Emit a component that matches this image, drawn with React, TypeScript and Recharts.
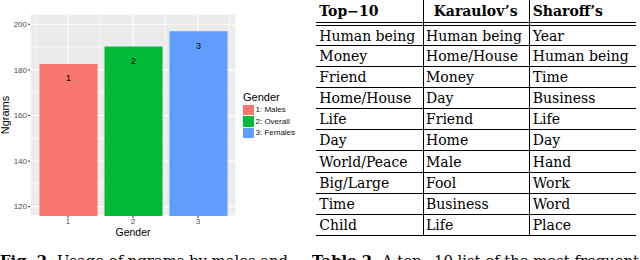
import { BarChart, Bar, Cell, XAxis, YAxis, CartesianGrid, LabelList, Legend } from "recharts";

const genders = [1, 2, 3];
const genderNames = ["1: Males", "2: Overall", "3: Females"];
const ngrams = [182.6, 190.2, 196.9];
const fills = ["#F8766D", "#00BA38", "#619CFF"];
const yTicks = [120, 140, 160, 180, 200];
const yMinorTicks = [130, 150, 170, 190];
const xMinorTicks = [0.5, 1.5, 2.5, 3.5];

const tableHeader = ["Top\u221210", "Karaulov\u2019s", "Sharoff\u2019s"];
const topWords = ["Human being", "Money", "Friend", "Home/House", "Life", "Day", "World/Peace", "Big/Large", "Time", "Child"];
const karaulovWords = ["Human being", "Home/House", "Money", "Day", "Friend", "Home", "Male", "Fool", "Business", "Life"];
const sharoffWords = ["Year", "Human being", "Time", "Business", "Life", "Day", "Hand", "Work", "Word", "Place"];

const data = genders.map((g, i) => ({ gender: g, name: genderNames[i], ngrams: ngrams[i] }));

const sans = "'Liberation Sans', Arial, sans-serif";
const serif = "'DejaVu Serif', serif";

const GenderLegend = () => (
  <div style={{ fontFamily: sans, color: "#000" }}>
    <div style={{ fontSize: 11, lineHeight: "13px" }}>Gender</div>
    {genderNames.map((name, i) => (
      <div key={name} style={{ display: "flex", alignItems: "center", height: 11.5 }}>
        <span style={{ display: "inline-block", width: 10.5, height: 10.5, background: fills[i], marginRight: 2 }} />
        <span style={{ fontSize: 8, color: "#111" }}>{name}</span>
      </div>
    ))}
  </div>
);

const colStyle = [
  { width: 106.7, pad: 3.3, headPad: 3.3 },
  { width: 106.3, pad: 2.3, headPad: 10 },
  { width: 107, pad: 2.7, headPad: 2.7 },
];

function WordTable() {
  const columns = [topWords, karaulovWords, sharoffWords];
  const cell = (text: string, i: number, bold: boolean) => (
    <div
      key={i}
      style={{
        width: colStyle[i].width,
        boxSizing: "border-box",
        paddingLeft: bold ? colStyle[i].headPad : colStyle[i].pad,
        borderLeft: i > 0 ? "1px solid #000" : "none",
        whiteSpace: "nowrap",
        fontWeight: bold ? "bold" : "normal",
        display: "flex",
        alignItems: "center",
      }}
    >
      {text}
    </div>
  );
  return (
    <div style={{ position: "absolute", left: 316, top: 0, width: 320, fontFamily: serif, fontSize: 14, color: "#000" }}>
      <div style={{ display: "flex", height: 22, borderBottom: "1px solid #000" }}>
        {tableHeader.map((h, i) => cell(h, i, true))}
      </div>
      <div style={{ display: "flex", height: 2 }}>
        {tableHeader.map((_, i) => (
          <div key={i} style={{ width: colStyle[i].width, boxSizing: "border-box", borderLeft: i > 0 ? "1px solid #000" : "none" }} />
        ))}
      </div>
      {topWords.map((_, r) => (
        <div
          key={r}
          style={{
            display: "flex",
            height: r === 0 ? 20 : r === topWords.length - 1 ? 22.5 : 21.1,
            boxSizing: "border-box",
            borderTop: "1px solid #000",
            borderBottom: r === topWords.length - 1 ? "1.4px solid #000" : "none",
          }}
        >
          {columns.map((col, i) => cell(col[r], i, false))}
        </div>
      ))}
    </div>
  );
}

export default function App() {
  return (
    <div style={{ position: "absolute", left: 0, top: 0, width: 640, height: 260, background: "#fff", overflow: "hidden" }}>
      <BarChart width={310} height={240} data={data} margin={{ top: 14, right: 74, bottom: 0, left: 0 }}>
        <CartesianGrid xAxisId="num" yAxisId="minor" fill="#EBEBEB" stroke="#fff" strokeWidth={0.6} />
        <CartesianGrid stroke="#fff" strokeWidth={1.1} />
        <XAxis
          dataKey="gender"
          padding={{ left: 5.5, right: 5.5 }}
          tick={{ fontSize: 8, fill: "#4D4D4D", fontFamily: sans }}
          tickSize={2}
          tickMargin={0}
          tickLine={{ stroke: "#333" }}
          axisLine={false}
          height={24}
          label={{ value: "Gender", position: "center", dy: 4.5, fontSize: 10.5, fill: "#000", fontFamily: sans }}
        />
        <XAxis xAxisId="num" dataKey="gender" type="number" domain={[0.405, 3.595]} allowDataOverflow ticks={xMinorTicks} hide />
        <YAxis
          domain={[115.9, 204.5]}
          allowDataOverflow
          ticks={yTicks}
          width={30}
          tick={{ fontSize: 8, fill: "#4D4D4D", fontFamily: sans }}
          tickSize={2}
          tickMargin={1}
          tickLine={{ stroke: "#333" }}
          axisLine={false}
          label={{ value: "Ngrams", angle: -90, position: "center", dx: -9.5, fontSize: 11, fill: "#000", fontFamily: sans }}
        />
        <YAxis yAxisId="minor" domain={[115.9, 204.5]} allowDataOverflow ticks={yMinorTicks} hide />
        <Legend layout="horizontal" verticalAlign="middle" align="center" content={GenderLegend} wrapperStyle={{ left: 243, top: 91, width: 70 }} />
        <Bar dataKey="ngrams" barSize={58} isAnimationActive={false}>
          {data.map((d, i) => (
            <Cell key={d.name} fill={fills[i]} />
          ))}
          <LabelList dataKey="gender" position="insideTop" offset={11} fontSize={9} fill="#000" fontFamily={sans} />
        </Bar>
      </BarChart>
      <WordTable />
      <div style={{ position: "absolute", left: 0, top: 252.4, width: 640, fontFamily: serif, fontSize: 14.8, whiteSpace: "nowrap", color: "#000" }}>
        <span style={{ position: "absolute", left: 0 }}>
          <b>Fig. 2.</b> Usage of ngrams by males and
        </span>
        <span style={{ position: "absolute", left: 312 }}>
          <b>Table 2.</b> A top{"\u2212"}10 list of the most frequent
        </span>
      </div>
    </div>
  );
}
